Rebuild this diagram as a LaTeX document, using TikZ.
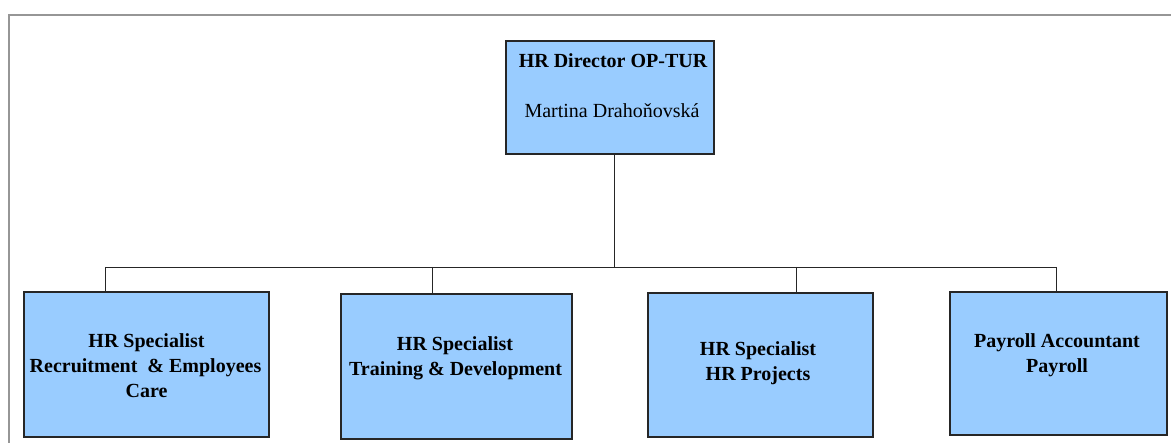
\documentclass[tikz,border=0pt]{standalone}
\usepackage{fontspec}
\setmainfont{Liberation Serif}
\definecolor{boxblue}{RGB}{153,204,255}
\definecolor{framegray}{RGB}{150,150,150}
\begin{document}
\begin{tikzpicture}[x=1pt,y=-1pt,
  orgbox/.style={draw=black!85, line width=1.3pt, fill=boxblue, inner sep=0pt},
  txt/.style={anchor=base, inner sep=0pt, font=\fontsize{20}{25}\selectfont\bfseries},
  txtreg/.style={anchor=base, inner sep=0pt, font=\fontsize{20}{25}\selectfont},
  wire/.style={draw=black!85, line width=0.8pt}]
\useasboundingbox (0,0) rectangle (1171,443);
% page frame (top and left edges)
\draw[framegray, line width=1.4pt] (9,443) -- (9,15) -- (1171,15);

% director
\node[orgbox, minimum width=208pt, minimum height=113pt] (dir) at (610,97.5) {};
\node[txt] (dirA) at (613,67.5) {HR Director OP-TUR};
\node[txtreg] (dirB) at (612,118) {Martina Drahoňovská};

% staff boxes
\node[orgbox, minimum width=245pt, minimum height=145pt] (r1) at (146.5,364.5) {};
\node[txt] (r1a) at (146.5,347.5) {HR Specialist};
\node[txt] (r1b) at (145.5,372.5) {Recruitment~ \& Employees};
\node[txt] (r1c) at (146.5,397.5) {Care};

\node[orgbox, minimum width=231pt, minimum height=145pt] (r2) at (456.5,366.5) {};
\node[txt] (r2a) at (455,350.5) {HR Specialist};
\node[txt] (r2b) at (455.5,375.5) {Training \& Development};

\node[orgbox, minimum width=225pt, minimum height=144pt] (r3) at (760.5,365) {};
\node[txt] (r3a) at (758,355.5) {HR Specialist};
\node[txt] (r3b) at (758,380.5) {HR Projects};

\node[orgbox, minimum width=217pt, minimum height=143pt] (r4) at (1058.5,363.5) {};
\node[txt] (r4a) at (1057,347.5) {Payroll Accountant};
\node[txt] (r4b) at (1057,372.5) {Payroll};

% bus line and drops
\coordinate (bd) at (614,267);
\coordinate (b1) at (105,267);
\coordinate (b2) at (432,267);
\coordinate (b3) at (796,267);
\coordinate (b4) at (1056,267);
\draw[wire] (dir.south -| bd) -- (bd);
\draw[wire] (b1) -- (b4);
\draw[wire] (b1) -- (b1 |- r1.north);
\draw[wire] (b2) -- (b2 |- r2.north);
\draw[wire] (b3) -- (b3 |- r3.north);
\draw[wire] (b4) -- (b4 |- r4.north);
\end{tikzpicture}
\end{document}
